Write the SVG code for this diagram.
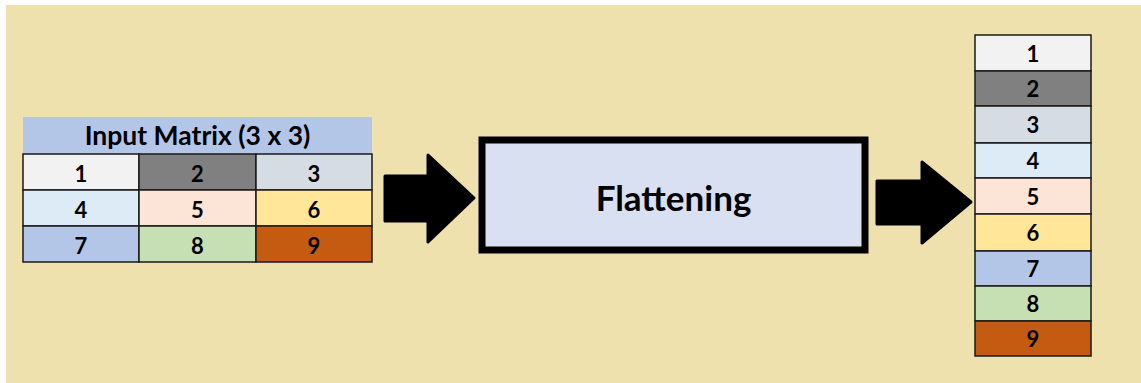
<svg xmlns="http://www.w3.org/2000/svg" width="1141" height="383" viewBox="0 0 1141 383">
  <style>
    .cell { stroke: #1a1a1a; stroke-width: 1.5; }
    .num { font-family: Lato, "Liberation Sans", sans-serif; font-weight: bold; font-size: 22px; fill: #000; text-anchor: middle; dominant-baseline: central; }
    .title { font-family: Lato, "Liberation Sans", sans-serif; font-weight: bold; font-size: 26.5px; fill: #000; text-anchor: middle; dominant-baseline: central; }
    .label { font-family: Lato, "Liberation Sans", sans-serif; font-weight: bold; font-size: 35px; fill: #000; text-anchor: middle; dominant-baseline: central; }
    .arrow { fill: #000; stroke: #000; stroke-width: 3; stroke-linejoin: round; }
    .c1 { fill: #F2F2F2; } .c2 { fill: #808080; } .c3 { fill: #D6DCE4; }
    .c4 { fill: #DDEBF7; } .c5 { fill: #FCE4D6; } .c6 { fill: #FFE699; }
    .c7 { fill: #B4C6E7; } .c8 { fill: #C6E0B4; } .c9 { fill: #C55A11; }
  </style>

  <rect x="0" y="0" width="1141" height="383" fill="#ffffff"/>
  <rect x="6" y="5" width="1135" height="378" fill="#EEE1AE"/>

  <!-- 3x3 input matrix -->
  <g id="input-matrix">
    <rect x="23" y="117" width="349" height="37" fill="#B4C6E7"/>
    <text class="title" x="197.5" y="135">Input Matrix (3 x 3)</text>
    <rect class="cell c1" x="23" y="154" width="116" height="36"/>
    <rect class="cell c2" x="139" y="154" width="117" height="36"/>
    <rect class="cell c3" x="256" y="154" width="116" height="36"/>
    <rect class="cell c4" x="23" y="190" width="116" height="36"/>
    <rect class="cell c5" x="139" y="190" width="117" height="36"/>
    <rect class="cell c6" x="256" y="190" width="116" height="36"/>
    <rect class="cell c7" x="23" y="226" width="116" height="36"/>
    <rect class="cell c8" x="139" y="226" width="117" height="36"/>
    <rect class="cell c9" x="256" y="226" width="116" height="36"/>
    <text class="num" x="81" y="173">1</text>
    <text class="num" x="197.5" y="173">2</text>
    <text class="num" x="314" y="173">3</text>
    <text class="num" x="81" y="209">4</text>
    <text class="num" x="197.5" y="209">5</text>
    <text class="num" x="314" y="209">6</text>
    <text class="num" x="81" y="245">7</text>
    <text class="num" x="197.5" y="245">8</text>
    <text class="num" x="314" y="245">9</text>
  </g>

  <!-- block arrows -->
  <g id="connectors">
    <polygon class="arrow" points="385,176 428,176 428,155 474,198 428,242 428,221 385,221"/>
    <polygon class="arrow" points="877,181 922,181 922,162 971,202 922,243 922,224 877,224"/>
  </g>

  <!-- flattening step -->
  <g id="flattening">
    <rect x="482" y="140" width="383" height="110" fill="#D9E0F2" stroke="#000" stroke-width="7"/>
    <text class="label" x="673.5" y="197">Flattening</text>
  </g>

  <!-- flattened 9x1 vector -->
  <g id="output-vector">
    <rect class="cell c1" x="975" y="35" width="116" height="36"/>
    <rect class="cell c2" x="975" y="71" width="116" height="35"/>
    <rect class="cell c3" x="975" y="106" width="116" height="37"/>
    <rect class="cell c4" x="975" y="143" width="116" height="35"/>
    <rect class="cell c5" x="975" y="178" width="116" height="36"/>
    <rect class="cell c6" x="975" y="214" width="116" height="37"/>
    <rect class="cell c7" x="975" y="251" width="116" height="35"/>
    <rect class="cell c8" x="975" y="286" width="116" height="35"/>
    <rect class="cell c9" x="975" y="321" width="116" height="35"/>
    <text class="num" x="1033" y="53">1</text>
    <text class="num" x="1033" y="88.5">2</text>
    <text class="num" x="1033" y="124.5">3</text>
    <text class="num" x="1033" y="160.5">4</text>
    <text class="num" x="1033" y="196">5</text>
    <text class="num" x="1033" y="232.5">6</text>
    <text class="num" x="1033" y="268.5">7</text>
    <text class="num" x="1033" y="303.5">8</text>
    <text class="num" x="1033" y="338.5">9</text>
  </g>
</svg>
